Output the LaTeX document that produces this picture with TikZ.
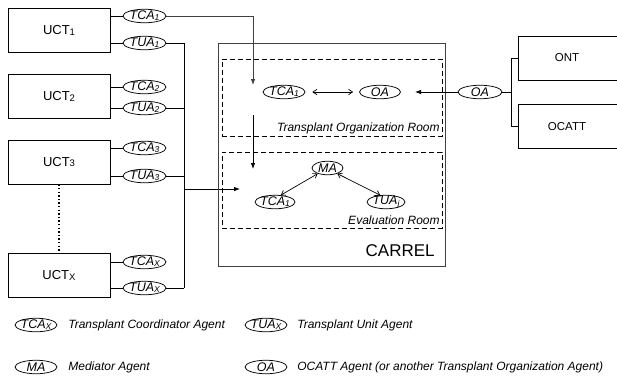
\documentclass[tikz,border=0pt]{standalone}
\usepackage{fontspec}
\setmainfont{Liberation Sans}
\usetikzlibrary{shapes.geometric,arrows.meta}
\newcommand{\agsub}[1]{{\fontsize{8.5}{9}\selectfont\raisebox{-1.2pt}{#1}}}
\newcommand{\uctsub}[1]{{\fontsize{9.5}{10}\selectfont\raisebox{-0.6pt}{#1}}}
\begin{document}
\begin{tikzpicture}[x=1pt,y=-1pt,
  line width=0.75pt,
  uct/.style={draw, line width=0.8pt, minimum width=102pt, minimum height=44pt, inner sep=0pt, font=\fontsize{13}{15}\selectfont},
  rbox/.style={draw, line width=0.8pt, minimum width=130pt, minimum height=44pt, inner sep=0pt},
  ag/.style={draw, ellipse, line width=0.75pt, inner sep=-1.5pt, minimum width=43pt, minimum height=13.5pt, font=\fontsize{12.5}{13}\selectfont\itshape},
  room/.style={draw, dash pattern=on 5pt off 3pt, line width=0.8pt, minimum width=220pt, inner sep=0pt},
  rlabel/.style={anchor=base east, inner sep=0pt, font=\fontsize{12}{14}\selectfont\itshape},
  legtext/.style={anchor=west, inner sep=0pt, font=\fontsize{12}{14}\selectfont\itshape},
  plain/.style={inner sep=0pt, font=\fontsize{11.5}{13}\selectfont},
  fa/.style={-{Latex[length=6pt,width=4.5pt]}},
  da/.style={{Straight Barb[length=4pt,width=5.5pt]}-{Straight Barb[length=4pt,width=5.5pt]}, line width=0.7pt}
]
\useasboundingbox (0,0) rectangle (617,381);
\clip (0,0) rectangle (617,381);

% UCT boxes
\node[uct] (u1) at (59,30.5) {UCT\uctsub{1}};
\node[uct] (u2) at (59,96.5) {UCT\uctsub{2}};
\node[uct] (u3) at (59,162) {UCT\uctsub{3}};
\node[uct] (ux) at (59,275.5) {UCT\uctsub{X}};

% agents of UCTs
\node[ag] (c1) at (144.5,16) {TCA\agsub{1}};
\node[ag] (a1) at (144.5,43) {TUA\agsub{1}};
\node[ag] (c2) at (144.5,87) {TCA\agsub{2}};
\node[ag] (a2) at (144.5,108) {TUA\agsub{2}};
\node[ag] (c3) at (144.5,148) {TCA\agsub{3}};
\node[ag] (a3) at (144.5,176) {TUA\agsub{3}};
\node[ag] (cx) at (144.5,262) {TCA\agsub{X}};
\node[ag] (ax) at (144.5,288) {TUA\agsub{X}};

\foreach \n in {c1,a1,c2,a2,c3,a3,cx,ax}{
  \draw (\n.west -| u1.east) -- (\n.west);
}
\draw[line width=1.4pt, dash pattern=on 1.4pt off 2.2pt] (u3.south) -- (ux.north);

% bus of TUA agents
\coordinate (busx) at (184,0);
\foreach \n in {a1,a2,a3,ax}{
  \draw (\n.east) -- (\n.east -| busx);
}
\draw (a1.east -| busx) -- (ax.east -| busx);
\coordinate (busj) at (184,189);
\coordinate (bustip) at (240,189);
\draw[fa] (busj) -- (bustip);

% CARREL
\node[draw, black!75, line width=0.9pt, minimum width=227pt, minimum height=223pt, inner sep=0pt] (carrel) at (331.5,154.5) {};
\node[room, minimum height=77pt] (tor) at (332,97.5) {};
\node[room, minimum height=76pt] (evr) at (332,190) {};
\node[rlabel] (torl) at (440,131.3) {Transplant Organization Room};
\node[rlabel] (evrl) at (440,224.3) {Evaluation Room};
\node[anchor=base east, inner sep=0pt, font=\fontsize{17}{19}\selectfont] (carl) at (435,256) {CARREL};

% TCA1 feed into the carrel
\coordinate (drop1) at (253,85);
\draw[fa, black!75] (c1.east) -| (drop1);
\coordinate (drop2s) at (253,115);
\coordinate (drop2e) at (253,169);
\draw[fa] (drop2s) -- (drop2e);

% Transplant organization room
\node[ag, minimum width=42pt] (ti) at (284,92) {TCA\agsub{1}};
\node[ag, minimum width=41pt] (oi) at (380,92) {OA};
\draw[da, shorten <=7pt, shorten >=6pt] (ti.east) -- (oi.west);

% Evaluation room
\node[ag, minimum width=31pt] (ma) at (327.5,168) {MA};
\node[ag, minimum width=40pt] (te) at (275,202) {TCA\agsub{1}};
\node[ag, minimum width=38pt] (tu) at (386,202) {TUA\agsub{j}};
\draw[da] (ma.210) -- (te.50);
\draw[da] (ma.330) -- (tu.130);

% external OA
\node[ag, minimum width=44pt] (oa2) at (480,92) {OA};
\coordinate (oatip) at (415,92);
\draw[fa] (oa2.west) -- (oatip);
\node[rbox] (ont) at (583,58) {};
\node[rbox] (ocatt) at (583,126.5) {};
\node[plain] (ontl) at (567,58) {ONT};
\node[plain] (ocattl) at (567,126.5) {OCATT};
\coordinate (jn) at (511,92);
\draw (oa2.east) -- (jn);
\draw (ont.west) -| (jn) |- (ocatt.west);

% legend
\node[ag, minimum width=42pt] (l1) at (36,325) {TCA\agsub{X}};
\node[legtext] (l1t) at (68,325) {Transplant Coordinator Agent};
\node[ag, minimum width=42pt] (l2) at (266,325) {TUA\agsub{X}};
\node[legtext] (l2t) at (297,325) {Transplant Unit Agent};
\node[ag, minimum width=42pt] (l3) at (36,367) {MA};
\node[legtext] (l3t) at (68,367) {Mediator Agent};
\node[ag, minimum width=42pt] (l4) at (266,367) {OA};
\node[legtext] (l4t) at (297,367) {OCATT Agent (or another Transplant Organization Agent)};
\end{tikzpicture}
\end{document}
